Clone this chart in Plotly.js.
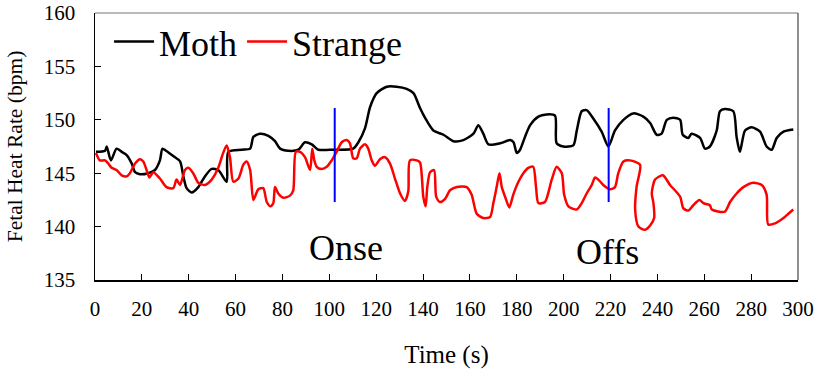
<!DOCTYPE html>
<html>
<head>
<meta charset="utf-8">
<script src="https://cdn.plot.ly/plotly-3.0.1.min.js"></script>
<style>html,body{margin:0;padding:0;background:#fff;}#chart{width:817px;height:373px;}</style>
</head>
<body>
<div id="chart"></div>
<script>
// Moth series (time s, bpm)
const mothT = [0.4, 4.3, 5, 6.8, 9.2, 11.4, 13.5, 15.7, 17.1, 19.2, 22.7, 25.6, 27.7, 28.8, 30.3, 33.4, 36.3, 37.7, 39.1, 41.3, 44.1, 46.9, 49.8, 52.6, 56.2, 56.9, 62.6, 66.2, 67.6, 70.4, 74, 76.8, 79, 82.5, 86.8, 89.6, 92.5, 95.3, 101.7, 110.2, 112.4, 115.2, 117.4, 120.2, 124.5, 128.7, 133, 135.9, 138.7, 140.8, 144.4, 148.7, 152.9, 157.2, 161.5, 163.6, 165.7, 167.9, 172.9, 177.1, 178.6, 180, 181.4, 183.5, 185.7, 189.2, 192.7, 196.3, 197, 199.9, 204.1, 205.6, 207.7, 209.8, 212.7, 216.2, 219.1, 221.9, 225.5, 229.7, 234, 236.9, 239.7, 241.8, 244, 246.8, 249.7, 250.8, 253.2, 254.6, 258.2, 260.3, 262.4, 265.3, 266.7, 268.8, 272.4, 273.8, 275.2, 277.4, 280.2, 283.8, 286.6, 288.8, 290.9, 293.8, 298];
const mothV = [147.0, 147.1, 147.5, 146.2, 147.3, 147.0, 146.7, 145.9, 145.1, 144.9, 145.0, 145.3, 146.2, 147.3, 147.1, 146.6, 146.1, 144.7, 143.6, 143.2, 143.7, 144.7, 145.4, 145.3, 144.2, 147.0, 147.2, 147.3, 148.4, 148.7, 148.5, 148.0, 147.3, 147.1, 147.2, 147.9, 147.7, 147.2, 147.2, 147.3, 147.9, 149.2, 151.2, 152.5, 153.1, 153.1, 152.9, 152.5, 151.1, 150.2, 149.0, 148.6, 148.0, 148.1, 148.7, 149.5, 148.7, 147.7, 147.8, 148.1, 147.9, 146.9, 147.2, 148.4, 149.5, 150.3, 150.5, 150.4, 147.8, 147.5, 147.6, 149.0, 150.8, 150.9, 150.1, 148.9, 147.5, 149.0, 150.0, 150.6, 150.3, 149.7, 148.6, 148.7, 150.0, 150.2, 150.0, 148.6, 148.3, 148.7, 148.3, 147.3, 147.5, 149.0, 150.8, 151.0, 150.8, 148.4, 147.0, 149.0, 149.3, 148.9, 147.5, 147.2, 148.3, 148.9, 149.1];

// Strange series (time s, bpm)
const strangeT = [0.4, 2.1, 4.3, 5.7, 7.1, 9.2, 11.4, 13.5, 14.9, 17.1, 19.2, 20.6, 22.0, 23.2, 24.9, 27.7, 30.5, 33.4, 34.8, 36.3, 38.4, 39.8, 41.9, 44.1, 46.9, 49.8, 52.6, 54.7, 56.2, 57.6, 59.0, 61.2, 63.3, 64.7, 66.2, 67.6, 69.7, 71.8, 73.3, 74.9, 76.1, 76.8, 78.2, 80.4, 83.2, 84.6, 85.7, 87.5, 89.6, 91.8, 92.7, 93.6, 94.6, 96.7, 98.9, 101, 103.1, 105.3, 107.4, 108.8, 110.2, 111.7, 113.1, 115.2, 116.6, 118.1, 119.5, 121.6, 123.8, 125.9, 128, 130.2, 132.3, 133.7, 134.4, 137.3, 138.7, 140.1, 141.1, 141.8, 143, 144.7, 145.6, 147.2, 149.4, 151.5, 154.4, 158.6, 160.7, 162.9, 165.7, 168.6, 170, 171.4, 172.6, 173.6, 175, 176.8, 178.5, 180.7, 182.8, 184.9, 187, 188.2, 189.2, 192, 194.9, 197, 199.2, 200.2, 202, 205.6, 207.7, 209.8, 212, 213.4, 214.8, 216.9, 219.8, 221.9, 223.3, 225.5, 228.3, 232.6, 231.1, 230.5, 231.9, 234.7, 236.9, 238.6, 238.3, 237.6, 239, 242.3, 245.4, 249.7, 251.1, 253.2, 255.3, 257.9, 259.6, 262.4, 263.2, 268.8, 271, 273.8, 276.7, 280.9, 284.5, 286.6, 287.3, 290.2, 293.8, 295.9, 298];
const strangeV = [146.9, 146.2, 146.2, 145.9, 145.5, 145.3, 144.8, 144.7, 145.0, 145.9, 146.3, 146.1, 145.3, 144.6, 145.1, 144.5, 143.7, 143.6, 144.4, 143.9, 145.3, 145.5, 145.0, 144.1, 143.9, 144.4, 145.5, 146.9, 147.6, 146.5, 144.2, 144.5, 145.8, 146.1, 145.3, 142.5, 143.5, 143.6, 142.3, 141.9, 142.2, 143.7, 143.1, 142.7, 142.9, 143.4, 147.0, 147.0, 146.5, 145.3, 147.3, 146.2, 145.6, 145.4, 145.6, 146.2, 147.0, 147.9, 148.1, 147.8, 146.4, 146.4, 147.3, 147.7, 147.3, 146.2, 145.7, 146.3, 146.5, 145.9, 144.5, 143.1, 142.4, 143.3, 146.2, 146.2, 146.0, 142.8, 141.9, 143.7, 145.1, 145.3, 142.8, 142.3, 142.6, 143.4, 143.7, 143.7, 143.0, 141.2, 140.8, 140.9, 142.2, 143.7, 145.0, 143.7, 142.8, 141.8, 143.0, 144.2, 145.0, 145.5, 145.6, 143.7, 142.2, 142.3, 144.4, 145.6, 145.0, 143.0, 141.9, 141.6, 142.2, 143.1, 143.9, 144.6, 144.4, 143.9, 143.5, 143.7, 145.0, 146.1, 146.2, 145.8, 143.7, 141.6, 140.0, 139.7, 140.1, 140.8, 142.2, 143.1, 144.4, 144.8, 143.9, 142.8, 141.7, 141.5, 142.0, 142.5, 142.2, 142.0, 141.6, 141.4, 142.3, 143.1, 143.7, 144.1, 143.9, 143.0, 140.2, 140.3, 140.8, 141.2, 141.6];

// Event markers (onset / offset)
const eventTimes = [102.3, 219.2];
const eventLabels = ["Onse", "Offs"];
const eventLow = 142.3;
const eventHigh = 151.1;
const labelX = [107.0, 218.9];
const labelY = [138.0, 137.6];

// Axis ticks
const xTicks = [0, 20, 40, 60, 80, 100, 120, 140, 160, 180, 200, 220, 240, 260, 280, 300];
const yTicks = [135, 140, 145, 150, 155, 160];

const SERIF = 'Liberation Serif, DejaVu Serif, serif';

const traces = [
  {x: mothT, y: mothV, type: 'scatter', mode: 'lines', name: 'Moth',
   line: {color: '#000000', width: 2.5, shape: 'spline', smoothing: 0.7}},
  {x: strangeT, y: strangeV, type: 'scatter', mode: 'lines', name: 'Strange',
   line: {color: '#ff0000', width: 2.5, shape: 'spline', smoothing: 0.7}}
];
eventTimes.forEach(function(t){
  traces.push({x: [t, t], y: [eventLow, eventHigh], type: 'scatter', mode: 'lines',
    showlegend: false, line: {color: '#0000ff', width: 2}});
});

const annotations = eventLabels.map(function(txt, i){
  return {x: labelX[i], y: labelY[i], xref: 'x', yref: 'y', text: txt, showarrow: false,
    xanchor: 'center', yanchor: 'middle', font: {family: SERIF, size: 36, color: '#000'}};
});

const layout = {
  width: 817, height: 373,
  margin: {l: 95, r: 19, t: 13, b: 93},
  paper_bgcolor: '#fff', plot_bgcolor: '#fff',
  font: {family: SERIF, color: '#000'},
  showlegend: true,
  legend: {orientation: 'h', x: 0.02, y: 1.005, xanchor: 'left', yanchor: 'top',
    font: {family: SERIF, size: 36, color: '#000'}, bgcolor: 'rgba(0,0,0,0)', borderwidth: 0,
    itemwidth: 40, tracegroupgap: 0},
  xaxis: {range: [0, 300], tickvals: xTicks, ticktext: xTicks.map(String),
    ticks: 'inside', ticklen: 6, tickwidth: 1, tickcolor: '#000',
    showline: true, linecolor: '#000', linewidth: 1.5, showgrid: false, zeroline: false,
    tickfont: {family: SERIF, size: 21, color: '#000'}, ticklabelstandoff: 9,
    title: {text: 'Time (s)', font: {family: SERIF, size: 25, color: '#000'}, standoff: 26}},
  yaxis: {range: [135, 160], tickvals: yTicks, ticktext: yTicks.map(String),
    ticks: 'inside', ticklen: 6, tickwidth: 1, tickcolor: '#000',
    showline: true, linecolor: '#000', linewidth: 1.5, showgrid: false, zeroline: false,
    tickfont: {family: SERIF, size: 21, color: '#000'}, ticklabelstandoff: 14,
    title: {text: 'Fetal Heat Rate (bpm)', font: {family: SERIF, size: 21.5, color: '#000'}, standoff: 15}},
  shapes: [
    {type: 'line', xref: 'paper', yref: 'paper', x0: 0, x1: 1, y0: 1, y1: 1, line: {color: '#777', width: 1.2}},
    {type: 'line', xref: 'paper', yref: 'paper', x0: 1, x1: 1, y0: 0, y1: 1, line: {color: '#444', width: 1.2}}
  ],
  annotations: annotations
};

Plotly.newPlot('chart', traces, layout, {staticPlot: true, displayModeBar: false});
</script>
</body>
</html>
